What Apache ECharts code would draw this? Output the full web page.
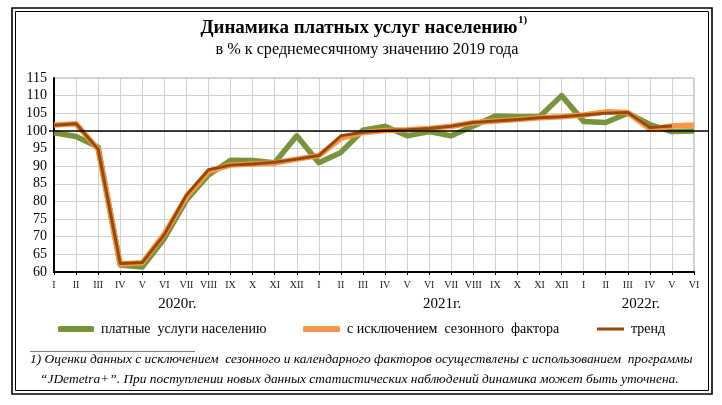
<!DOCTYPE html>
<html><head><meta charset="utf-8">
<script src="https://cdn.jsdelivr.net/npm/echarts@6/dist/echarts.min.js"></script>
<style>html,body{margin:0;padding:0;background:#fff}#c{width:722px;height:405px}</style>
</head><body><div id="c"></div>
<script>
const categories = ['I','II','III','IV','V','VI','VII','VIII','IX','X','XI','XII',
  'I','II','III','IV','V','VI','VII','VIII','IX','X','XI','XII',
  'I','II','III','IV','V','VI'];
const yearLabels = ['2020г.','2021г.','2022г.'];
const yearLabelPos = [5.5, 17.5, 26.5];
const yTicks = {min: 60, max: 115, interval: 5};
const seriesNames = ['платные  услуги населению','с исключением  сезонного  фактора','тренд'];
const paidServices = [99.5, 98.4, 95.4, 62.0, 61.4, 69.5, 80.4, 87.5, 91.7, 91.6, 91.0, 98.6,
  91.0, 93.9, 100.2, 101.3, 98.6, 99.8, 98.6, 101.4, 104.2, 104.0, 104.0, 110.0,
  102.7, 102.4, 105.0, 101.8, 99.8, 100.0];
const seasonallyAdjusted = [101.7, 102.0, 94.8, 62.3, 62.6, 70.8, 81.3, 88.5, 90.3, 90.6, 90.9, 92.0,
  93.0, 97.9, 99.5, 100.1, 100.3, 100.7, 101.3, 102.3, 102.8, 103.2, 103.7, 104.0,
  104.5, 105.4, 105.2, 100.5, 101.4, 101.7];
const trend = [101.6, 102.0, 94.8, 62.4, 62.7, 70.6, 81.8, 89.0, 90.3, 90.6, 91.1, 92.0,
  93.0, 98.6, 99.6, 100.1, 100.3, 100.7, 101.3, 102.4, 102.8, 103.2, 103.7, 104.0,
  104.5, 105.0, 105.2, 101.0, 101.4, null];
const baseLevel = 100;
const titleText = 'Динамика платных услуг населению';
const titleSup = '1)';
const subtitleText = 'в % к среднемесячному значению 2019 года';
const footnote1 = '1) Оценки данных с исключением  сезонного и календарного факторов осуществлены с использованием  программы';
const footnote2 = '“JDemetra+”. При поступлении новых данных статистических наблюдений динамика может быть уточнена.';

const SERIF = '"Liberation Serif", "Times New Roman", serif';
const colors = ['#77933C', '#F79646', '#984807'];

const chart = echarts.init(document.getElementById('c'), null, {renderer: 'canvas'});
const legendBase = (name, left, icon, w, h) => ({
  data: [{name: name, icon: icon}],
  left: left, top: 322, itemWidth: w, itemHeight: h, itemGap: 0, padding: 0,
  selectedMode: false,
  textStyle: {fontFamily: SERIF, fontSize: 14, color: '#000', padding: [0,0,0,2]}
});
chart.setOption({
  animation: false,
  grid: {left: 54, right: 28, top: 78, bottom: 133, show: true, borderColor: '#A6A6A6', borderWidth: 1},
  legend: [
    legendBase(seriesNames[0], 58, 'roundRect', 36, 6),
    legendBase(seriesNames[1], 303, 'roundRect', 37, 6),
    legendBase(seriesNames[2], 597, 'rect', 27, 3)
  ],
  xAxis: {
    type: 'category', data: categories, boundaryGap: false,
    axisLine: {lineStyle: {color: '#000', width: 2}},
    axisTick: {show: true, length: 3, lineStyle: {color: '#000'}},
    axisLabel: {interval: 0, fontFamily: SERIF, fontSize: 10, color: '#1a1a2a', margin: 8},
    splitLine: {show: true, lineStyle: {color: '#D0D0D0', width: 1}}
  },
  yAxis: {
    type: 'value', min: yTicks.min, max: yTicks.max, interval: yTicks.interval,
    axisLine: {show: true, lineStyle: {color: '#000', width: 2}},
    axisTick: {show: false},
    axisLabel: {fontFamily: SERIF, fontSize: 14, color: '#000', margin: 7},
    splitLine: {show: true, lineStyle: {color: '#D0D0D0', width: 1}}
  },
  series: [
    {name: seriesNames[0], type: 'line', data: paidServices, showSymbol: false, symbol: 'none',
     lineStyle: {color: colors[0], width: 5.5, join: 'round'}, itemStyle: {color: colors[0]}, z: 2},
    {name: seriesNames[1], type: 'line', data: seasonallyAdjusted, showSymbol: false, symbol: 'none',
     lineStyle: {color: colors[1], width: 5.5, join: 'round'}, itemStyle: {color: colors[1]}, z: 3},
    {name: seriesNames[2], type: 'line', data: trend, showSymbol: false, symbol: 'none',
     lineStyle: {color: colors[2], width: 3, join: 'round'}, itemStyle: {color: colors[2]}, z: 4}
  ]
});

const y100 = chart.convertToPixel({yAxisIndex: 0}, baseLevel);
const yearEls = yearLabels.map((t, i) => {
  const a = chart.convertToPixel({xAxisIndex: 0}, Math.floor(yearLabelPos[i]));
  const b = chart.convertToPixel({xAxisIndex: 0}, Math.ceil(yearLabelPos[i]));
  return {
    type: 'text', x: (a + b) / 2 + 2, y: 304,
    style: {text: t, font: '15px ' + SERIF, fill: '#000', textAlign: 'center', textVerticalAlign: 'middle'}
  };
});

chart.setOption({
  graphic: [
    {type: 'rect', shape: {x: 12, y: 8, width: 700, height: 386}, style: {fill: 'none', stroke: '#000', lineWidth: 1.6}, silent: true},
    {type: 'rect', shape: {x: 15.5, y: 11.5, width: 693, height: 379}, style: {fill: 'none', stroke: '#000', lineWidth: 1}, silent: true},
    {type: 'text', x: 359, y: 28, style: {text: titleText, font: 'bold 19px ' + SERIF, fill: '#000', textAlign: 'center', textVerticalAlign: 'middle'}},
    {type: 'text', x: 518, y: 20, style: {text: titleSup, font: 'bold 11px ' + SERIF, fill: '#000', textAlign: 'left', textVerticalAlign: 'middle'}},
    {type: 'text', x: 367, y: 50, style: {text: subtitleText, font: '16.2px ' + SERIF, fill: '#000', textAlign: 'center', textVerticalAlign: 'middle'}},
    {type: 'line', shape: {x1: 49, y1: y100, x2: 708, y2: y100}, style: {stroke: '#000', lineWidth: 1.5}, z: 100, silent: true},
    ...yearEls,
    {type: 'line', shape: {x1: 30, y1: 351.5, x2: 195, y2: 351.5}, style: {stroke: '#808080', lineWidth: 1}, silent: true},
    {type: 'text', x: 30, y: 359, style: {text: footnote1, font: 'italic 13.4px ' + SERIF, fill: '#000', textAlign: 'left', textVerticalAlign: 'middle'}},
    {type: 'text', x: 40, y: 379, style: {text: footnote2, font: 'italic 13.4px ' + SERIF, fill: '#000', textAlign: 'left', textVerticalAlign: 'middle'}}
  ]
});
</script></body></html>
